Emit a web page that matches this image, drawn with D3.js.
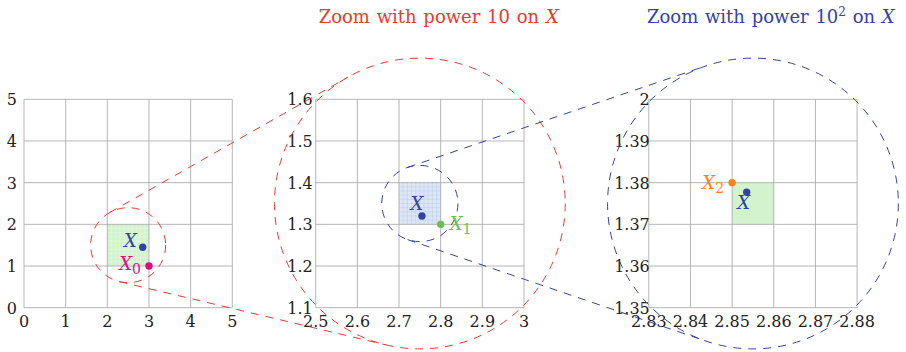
<!DOCTYPE html>
<html><head><meta charset="utf-8">
<script src="https://cdn.jsdelivr.net/npm/d3@7"></script>
<style>
body{margin:0;background:#fff}
svg{display:block}
text{font-family:"DejaVu Serif",serif}
</style>
</head><body>
<svg id="chart" width="906" height="352"></svg>
<script>
// ---------- data ----------
const leftXDomain = [0, 5], leftYDomain = [0, 5];
const midXDomain = [2.5, 3], midYDomain = [1.1, 1.6];
const rightXDomain = [2.83, 2.88], rightYDomain = [1.35, 1.40];

const leftXTicks = [0, 1, 2, 3, 4, 5];
const leftXLabels = ["0", "1", "2", "3", "4", "5"];
const leftYTicks = [0, 1, 2, 3, 4, 5];
const leftYLabels = ["0", "1", "2", "3", "4", "5"];

const midXTicks = [2.5, 2.6, 2.7, 2.8, 2.9, 3];
const midXLabels = ["2.5", "2.6", "2.7", "2.8", "2.9", "3"];
const midYTicks = [1.1, 1.2, 1.3, 1.4, 1.5, 1.6];
const midYLabels = ["1.1", "1.2", "1.3", "1.4", "1.5", "1.6"];

const rightXTicks = [2.83, 2.84, 2.85, 2.86, 2.87, 2.88];
const rightXLabels = ["2.83", "2.84", "2.85", "2.86", "2.87", "2.88"];
const rightYTicks = [1.35, 1.36, 1.37, 1.38, 1.39, 1.40];
const rightYLabels = ["1.35", "1.36", "1.37", "1.38", "1.39", "2"];

// shaded zoom squares [x0, x1, y0, y1, fine grid step]
const leftBox = [2, 3, 1, 2, 0.1];
const midBox = [2.7, 2.8, 1.3, 1.4, 0.01];
const rightBox = [2.85, 2.86, 1.37, 1.38, 0];

// points [x, y]
const leftX = [2.85, 1.45], leftX0 = [3, 1];
const midX = [2.755, 1.32], midX1 = [2.8, 1.3];
const rightX = [2.8535, 1.3777], rightX2 = [2.85, 1.38];

// zoom circles [cx, cy, r] in data units of their panel
const leftSmallCircle = [2.5, 1.5, 0.9];
const midBigCircle = [2.75, 1.35, 0.349];
const midSmallCircle = [2.75, 1.35, 0.0915];
const rightBigCircle = [2.855, 1.375, 0.0349];

// ---------- styles / layout ----------
const RED = "#e43d30", BLUE = "#34439f", MAGENTA = "#e5097f", GREEN = "#66c24a", ORANGE = "#f5821f";
const GRID = "#a3a3a3";
const DASH = "8 7";
const plotTop = 99.3, plotBottom = 307.7, plotWidth = 208.3;

const svg = d3.select("#chart");

function makePanel(x0, xDomain, yDomain) {
  return {
    x: d3.scaleLinear().domain(xDomain).range([x0, x0 + plotWidth]),
    y: d3.scaleLinear().domain(yDomain).range([plotBottom, plotTop])
  };
}
const P1 = makePanel(24, leftXDomain, leftYDomain);
const P2 = makePanel(315.7, midXDomain, midYDomain);
const P3 = makePanel(648.8, rightXDomain, rightYDomain);

function shade(P, box, fill, lineColor) {
  const g = svg.append("g");
  const [x0, x1, y0, y1, step] = box;
  g.append("rect")
    .attr("x", P.x(x0)).attr("y", P.y(y1))
    .attr("width", P.x(x1) - P.x(x0)).attr("height", P.y(y0) - P.y(y1))
    .attr("fill", fill);
  if (step > 0) {
    const n = Math.round((x1 - x0) / step);
    const xs = d3.range(1, n).map(i => x0 + i * step);
    const ys = d3.range(1, n).map(i => y0 + i * step);
    g.selectAll(".fx").data(xs).enter().append("line")
      .attr("x1", d => P.x(d)).attr("x2", d => P.x(d))
      .attr("y1", P.y(y0)).attr("y2", P.y(y1))
      .attr("stroke", lineColor).attr("stroke-width", 0.5);
    g.selectAll(".fy").data(ys).enter().append("line")
      .attr("y1", d => P.y(d)).attr("y2", d => P.y(d))
      .attr("x1", P.x(x0)).attr("x2", P.x(x1))
      .attr("stroke", lineColor).attr("stroke-width", 0.5);
  }
}

function grid(P, xTicks, yTicks) {
  const g = svg.append("g");
  g.selectAll(".gx").data(xTicks).enter().append("line")
    .attr("x1", d => P.x(d)).attr("x2", d => P.x(d))
    .attr("y1", plotTop).attr("y2", plotBottom)
    .attr("stroke", GRID).attr("stroke-width", 0.8);
  g.selectAll(".gy").data(yTicks).enter().append("line")
    .attr("y1", d => P.y(d)).attr("y2", d => P.y(d))
    .attr("x1", P.x.range()[0]).attr("x2", P.x.range()[1])
    .attr("stroke", GRID).attr("stroke-width", 0.8);
}

function labels(P, xTicks, xLabels, yTicks, yLabels, yOff) {
  const g = svg.append("g").attr("fill", "#222").attr("font-size", 16);
  g.selectAll(".lx").data(xTicks).enter().append("text")
    .attr("x", d => P.x(d)).attr("y", 327)
    .attr("text-anchor", "middle")
    .text((d, i) => xLabels[i]);
  g.selectAll(".ly").data(yTicks).enter().append("text")
    .attr("x", P.x.range()[0] + yOff).attr("y", d => P.y(d) + 6)
    .attr("text-anchor", "end")
    .text((d, i) => yLabels[i]);
}

shade(P1, leftBox, "#d3f3cf", "#e6f8e3");
shade(P2, midBox, "#dde7f7", "#b9cbea");
shade(P3, rightBox, "#d2f3cd", "#d2f3cd");

grid(P1, leftXTicks, leftYTicks);
grid(P2, midXTicks, midYTicks);
grid(P3, rightXTicks, rightYTicks);

labels(P1, leftXTicks, leftXLabels, leftYTicks, leftYLabels, -7);
labels(P2, midXTicks, midXLabels, midYTicks, midYLabels, -3);
labels(P3, rightXTicks, rightXLabels, rightYTicks, rightYLabels, 1);

// ---------- zoom circles and tangent lines ----------
function pixCircle(P, c) {
  return { cx: P.x(c[0]), cy: P.y(c[1]), r: P.x(c[0] + c[2]) - P.x(c[0]) };
}
function drawCircle(c, color) {
  svg.append("circle").attr("cx", c.cx).attr("cy", c.cy).attr("r", c.r)
    .attr("fill", "none").attr("stroke", color).attr("stroke-width", 1)
    .attr("stroke-dasharray", DASH);
}
function tangents(a, b, color) {
  const dx = b.cx - a.cx, dy = b.cy - a.cy, d = Math.hypot(dx, dy);
  const base = Math.atan2(dy, dx), th = Math.acos((b.r - a.r) / d);
  [base + th, base - th].forEach(ang => {
    const nx = Math.cos(ang), ny = Math.sin(ang);
    svg.append("line")
      .attr("x1", a.cx - a.r * nx).attr("y1", a.cy - a.r * ny)
      .attr("x2", b.cx - b.r * nx).attr("y2", b.cy - b.r * ny)
      .attr("stroke", color).attr("stroke-width", 1)
      .attr("stroke-dasharray", DASH);
  });
}
const c1 = pixCircle(P1, leftSmallCircle), c2 = pixCircle(P2, midBigCircle);
const c3 = pixCircle(P2, midSmallCircle), c4 = pixCircle(P3, rightBigCircle);
drawCircle(c1, RED); drawCircle(c2, RED); tangents(c1, c2, RED);
drawCircle(c3, BLUE); drawCircle(c4, BLUE); tangents(c3, c4, BLUE);

// ---------- points and labels ----------
function point(P, p, color) {
  svg.append("circle").attr("cx", P.x(p[0])).attr("cy", P.y(p[1])).attr("r", 3.7).attr("fill", color);
}
function ptLabel(P, p, color, sub, dx, dy, anchor) {
  const t = svg.append("text")
    .attr("x", P.x(p[0]) + dx).attr("y", P.y(p[1]) + dy)
    .attr("text-anchor", anchor).attr("fill", color).attr("font-size", 18);
  t.append("tspan").attr("font-style", "italic").text("X");
  if (sub) t.append("tspan").attr("font-size", 14).attr("dy", 4).text(sub);
}
point(P1, leftX, BLUE); ptLabel(P1, leftX, BLUE, "", -6, 0, "end");
point(P1, leftX0, MAGENTA); ptLabel(P1, leftX0, MAGENTA, "0", -8, 4, "end");
point(P2, midX, BLUE); ptLabel(P2, midX, BLUE, "", -5, -6, "middle");
point(P2, midX1, GREEN); ptLabel(P2, midX1, GREEN, "1", 9, 6, "start");
point(P3, rightX2, ORANGE); ptLabel(P3, rightX2, ORANGE, "2", -8, 6, "end");
point(P3, rightX, BLUE); ptLabel(P3, rightX, BLUE, "", -3, 17, "middle");

// ---------- titles ----------
function title(x, color, sup) {
  const t = svg.append("text").attr("x", x).attr("y", 23).attr("fill", color)
    .attr("font-size", 18).attr("text-anchor", "middle").attr("word-spacing", 1);
  t.append("tspan").text("Zoom with power 10");
  if (sup) t.append("tspan").attr("font-size", 12).attr("dy", -7).text(sup);
  t.append("tspan").attr("dy", sup ? 7 : 0).text(" on ");
  t.append("tspan").attr("font-style", "italic").text("X");
}
title(438.7, RED, "");
title(770.8, BLUE, "2");
</script>
</body></html>
